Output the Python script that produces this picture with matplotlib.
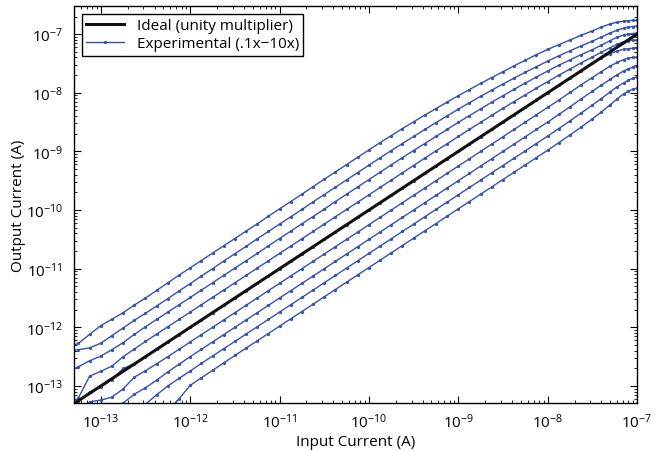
import numpy as np
import matplotlib
matplotlib.use('Agg')
import matplotlib.pyplot as plt

plt.rcParams['font.family'] = ['Open Sans', 'DejaVu Sans']
plt.rcParams['mathtext.fontset'] = 'custom'
plt.rcParams['mathtext.rm'] = 'Open Sans'

# input current sweep, log10(A)
log_in = [-13.375, -13.25, -13.125, -13.0, -12.875, -12.75, -12.625, -12.5, -12.375, -12.25,
          -12.125, -12.0, -11.875, -11.75, -11.625, -11.5, -11.375, -11.25, -11.125, -11.0,
          -10.875, -10.75, -10.625, -10.5, -10.375, -10.25, -10.125, -10.0, -9.875, -9.75,
          -9.625, -9.5, -9.375, -9.25, -9.125, -9.0, -8.875, -8.75, -8.625, -8.5,
          -8.375, -8.25, -8.125, -8.0, -7.875, -7.75, -7.625, -7.5, -7.4, -7.3,
          -7.22, -7.15, -7.1, -7.05, -7.0]

# measured output current, log10(A), multiplier 10x down to .1x
out_10x = [-12.36, -12.27, -12.12, -11.97, -11.86, -11.75, -11.62, -11.50, -11.37, -11.24,
           -11.11, -10.985, -10.86, -10.735, -10.61, -10.485, -10.36, -10.235, -10.105, -9.98,
           -9.855, -9.73, -9.60, -9.475, -9.35, -9.225, -9.10, -8.975, -8.85, -8.73,
           -8.61, -8.495, -8.38, -8.27, -8.16, -8.05, -7.945, -7.84, -7.74, -7.64,
           -7.54, -7.445, -7.35, -7.26, -7.18, -7.10, -7.02, -6.945, -6.88, -6.825,
           -6.795, -6.78, -6.77, -6.765, -6.76]
out_5_6x = [-12.41, -12.38, -12.35, -12.27, -12.14, -12.01, -11.88, -11.76, -11.635, -11.51,
            -11.38, -11.255, -11.125, -11.0, -10.87, -10.745, -10.62, -10.49, -10.365, -10.24,
            -10.115, -9.99, -9.86, -9.735, -9.61, -9.485, -9.36, -9.235, -9.11, -8.985,
            -8.865, -8.745, -8.625, -8.51, -8.395, -8.28, -8.17, -8.06, -7.955, -7.85,
            -7.75, -7.65, -7.555, -7.46, -7.37, -7.285, -7.20, -7.12, -7.05, -6.98,
            -6.93, -6.90, -6.88, -6.87, -6.86]
out_3_2x = [-12.77, -12.67, -12.57, -12.49, -12.38, -12.26, -12.12, -11.99, -11.865, -11.74,
            -11.615, -11.49, -11.365, -11.24, -11.115, -10.99, -10.865, -10.74, -10.61, -10.485,
            -10.36, -10.235, -10.11, -9.985, -9.855, -9.73, -9.605, -9.48, -9.355, -9.23,
            -9.105, -8.985, -8.865, -8.745, -8.625, -8.505, -8.39, -8.275, -8.16, -8.05,
            -7.94, -7.835, -7.73, -7.63, -7.53, -7.44, -7.35, -7.265, -7.19, -7.11,
            -7.05, -7.015, -7.0, -6.99, -6.98]
out_1_8x = [-13.45, -13.2, -12.83, -12.75, -12.66, -12.50, -12.37, -12.24, -12.115, -11.99,
            -11.865, -11.74, -11.615, -11.49, -11.365, -11.24, -11.115, -10.99, -10.865, -10.74,
            -10.615, -10.49, -10.365, -10.24, -10.115, -9.99, -9.865, -9.74, -9.615, -9.49,
            -9.365, -9.24, -9.115, -8.99, -8.87, -8.745, -8.625, -8.505, -8.385, -8.265,
            -8.15, -8.035, -7.92, -7.81, -7.70, -7.595, -7.49, -7.39, -7.31, -7.23,
            -7.17, -7.13, -7.115, -7.105, -7.10]
out_1x = [-13.40, -13.27, -13.10, -13.02, -12.89, -12.70, -12.62, -12.5, -12.375, -12.25,
          -12.125, -12.0, -11.875, -11.75, -11.625, -11.5, -11.375, -11.25, -11.125, -11.0,
          -10.875, -10.75, -10.625, -10.5, -10.375, -10.25, -10.125, -10.0, -9.875, -9.75,
          -9.625, -9.5, -9.375, -9.25, -9.125, -9.0, -8.875, -8.75, -8.625, -8.5,
          -8.375, -8.25, -8.125, -8.0, -7.875, -7.75, -7.625, -7.5, -7.41, -7.335,
          -7.285, -7.26, -7.248, -7.242, -7.24]
out_0_56x = [-13.5, -13.42, -13.27, -13.24, -13.19, -13.05, -12.85, -12.74, -12.62, -12.50,
             -12.375, -12.25, -12.125, -12.0, -11.875, -11.75, -11.625, -11.5, -11.375, -11.25,
             -11.125, -11.0, -10.875, -10.75, -10.625, -10.5, -10.375, -10.25, -10.125, -10.0,
             -9.875, -9.75, -9.625, -9.5, -9.375, -9.25, -9.125, -9.0, -8.875, -8.75,
             -8.625, -8.5, -8.375, -8.25, -8.125, -7.995, -7.865, -7.74, -7.64, -7.545,
             -7.48, -7.435, -7.41, -7.397, -7.39]
out_0_32x = [-13.9, -13.6, -13.45, -13.42, -13.40, -13.29, -13.14, -13.03, -12.9, -12.76,
             -12.63, -12.50, -12.375, -12.25, -12.125, -12.0, -11.875, -11.75, -11.625, -11.5,
             -11.375, -11.25, -11.125, -11.0, -10.875, -10.75, -10.625, -10.5, -10.375, -10.25,
             -10.125, -10.0, -9.875, -9.75, -9.625, -9.5, -9.375, -9.25, -9.125, -9.0,
             -8.875, -8.75, -8.625, -8.5, -8.37, -8.24, -8.105, -7.975, -7.87, -7.77,
             -7.69, -7.63, -7.595, -7.565, -7.55]
out_0_18x = [-14.4, -14.2, -14.0, -13.85, -13.7, -13.55, -13.4, -13.31, -13.15, -13.0,
             -12.87, -12.745, -12.615, -12.49, -12.365, -12.24, -12.115, -11.99, -11.865, -11.74,
             -11.615, -11.49, -11.365, -11.24, -11.115, -10.99, -10.865, -10.74, -10.615, -10.49,
             -10.365, -10.24, -10.115, -9.99, -9.865, -9.74, -9.615, -9.49, -9.365, -9.24,
             -9.115, -8.99, -8.865, -8.74, -8.61, -8.48, -8.345, -8.21, -8.10, -7.985,
             -7.895, -7.83, -7.79, -7.755, -7.73]
out_0_1x = [-14.6, -14.45, -14.3, -14.15, -14.0, -13.85, -13.7, -13.55, -13.45, -13.42,
            -13.22, -12.99, -12.86, -12.735, -12.605, -12.48, -12.355, -12.23, -12.105, -11.98,
            -11.855, -11.73, -11.605, -11.48, -11.355, -11.23, -11.105, -10.98, -10.855, -10.73,
            -10.605, -10.48, -10.355, -10.23, -10.105, -9.98, -9.855, -9.73, -9.605, -9.48,
            -9.355, -9.23, -9.105, -8.98, -8.85, -8.72, -8.585, -8.445, -8.33, -8.205,
            -8.10, -8.02, -7.975, -7.94, -7.92]

curves = [out_10x, out_5_6x, out_3_2x, out_1_8x, out_1x, out_0_56x, out_0_32x, out_0_18x, out_0_1x]
decades = [1e-13, 1e-12, 1e-11, 1e-10, 1e-9, 1e-8, 1e-7]

x = 10**np.array(log_in)

fig = plt.figure(figsize=(6.62, 4.52), dpi=100)
ax = fig.add_axes([0.1118, 0.1062, 0.8504, 0.8783])

blue = '#3352b5'
for c in curves:
    h_exp, = ax.plot(x, 10**np.array(c), '-', color=blue, lw=1.0,
                     marker='.', ms=2.6, zorder=2)
h_ideal, = ax.plot(x, x, '-', color='#111111', lw=2.2, zorder=3)

ax.set_xscale('log')
ax.set_yscale('log')
ax.set_xticks(decades)
ax.set_yticks(decades)
ax.set_xlim(10**-13.30, 1e-7)
ax.set_ylim(10**-13.29, 10**-6.52)

ax.tick_params(which='both', direction='in', top=True, right=True, labelsize=11)
ax.tick_params(axis='x', which='major', length=5, pad=7)
ax.tick_params(axis='y', which='major', length=5, pad=8)
ax.tick_params(which='minor', length=2.5)
for s in ax.spines.values():
    s.set_linewidth(1.0)

ax.set_xlabel('Input Current (A)', fontsize=11, labelpad=2)
ax.set_ylabel('Output Current (A)', fontsize=11, labelpad=0)

leg = ax.legend([h_ideal, h_exp], ['Ideal (unity multiplier)', 'Experimental (.1x\u221210x)'],
                loc='upper left', fontsize=11, fancybox=False, framealpha=1,
                edgecolor='black', borderaxespad=0.5, handlelength=2.5,
                borderpad=0.3, labelspacing=0.2)
leg.get_frame().set_linewidth(1.0)

fig.savefig('out.png', dpi=100)
